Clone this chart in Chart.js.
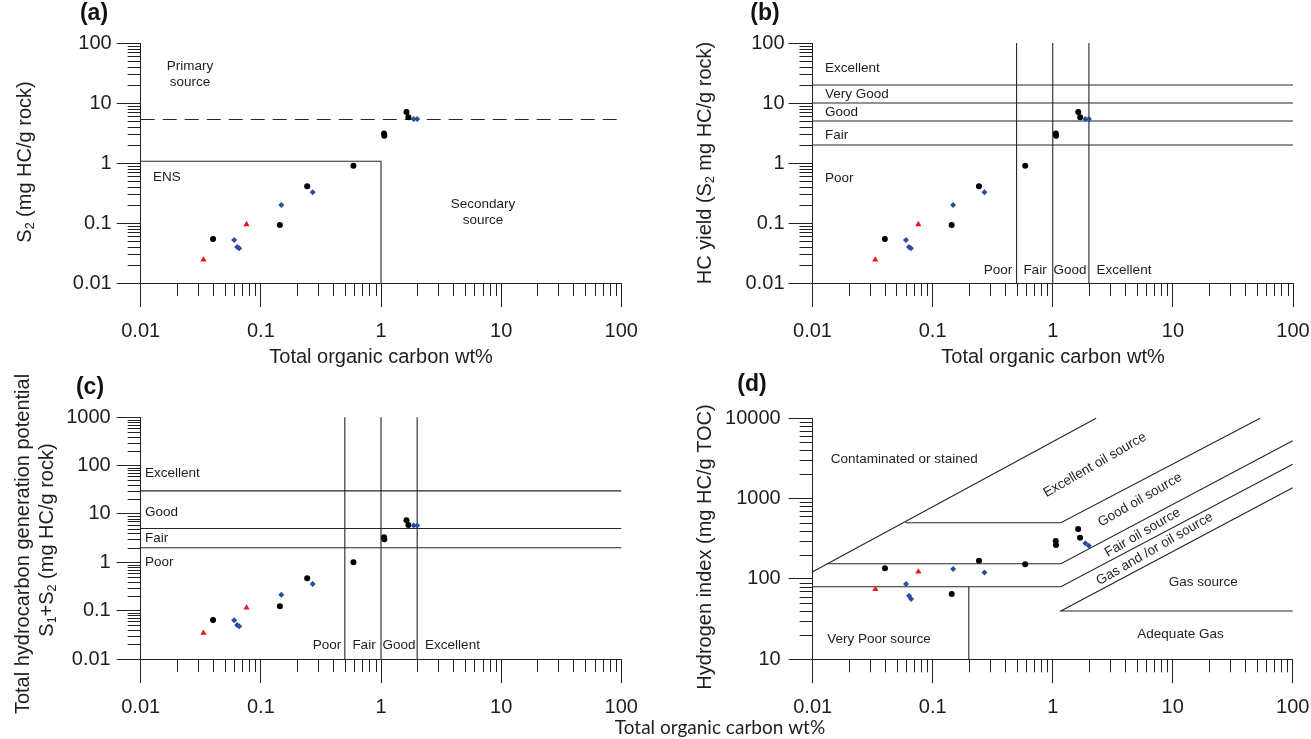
<!DOCTYPE html>
<html><head><meta charset="utf-8">
<script src="https://cdn.jsdelivr.net/npm/chart.js@4.4.1/dist/chart.umd.min.js"></script>
<style>
html,body{margin:0;padding:0;background:#fff;width:1311px;height:739px;overflow:hidden}
canvas{position:absolute;left:0;top:0;pointer-events:none}
</style></head><body>
<canvas id="ca" width="1311" height="739"></canvas>
<canvas id="cb" width="1311" height="739"></canvas>
<canvas id="cc" width="1311" height="739"></canvas>
<canvas id="cd" width="1311" height="739"></canvas>
<script>
// ---------------- data ----------------
const blackTOC  = [1.63, 1.69, 1.06, 1.065, 0.59, 0.243, 0.144, 0.040];
const blackS2   = [7.1, 5.8, 3.1, 2.85, 0.90, 0.41, 0.093, 0.054];
const blackS1S2 = [7.45, 5.94, 3.31, 3.0, 1.0, 0.47, 0.123, 0.064];
const blackHI   = [420, 327, 297, 265, 152, 168, 65, 136];

const redTOC  = [0.076, 0.0333];
const redS2   = [0.095, 0.0244];
const redS1S2 = [0.115, 0.0345];
const redHI   = [123, 74.5];

const blueTOC  = [1.87, 2.0, 0.27, 0.148, 0.060, 0.0635, 0.066];
const blueS2   = [5.4, 5.4, 0.325, 0.2, 0.052, 0.040, 0.038];
const blueS1S2 = [5.76, 5.76, 0.357, 0.214, 0.063, 0.0506, 0.0475];
const blueHI   = [279, 260, 120, 133, 86.7, 62, 56.4];

// tick labels
const tocTickLabels  = ['0.01', '0.1', '1', '10', '100'];
const s2TickLabels   = ['0.01', '0.1', '1', '10', '100'];
const s1s2TickLabels = ['0.01', '0.1', '1', '10', '100', '1000'];
const hiTickLabels   = ['10', '100', '1000', '10000'];

// classification limits
const primaryS2Limit = 5.3;          // dashed line (a)
const ensBox = [1, 1.07];            // TOC, S2 corner of ENS box (a)
const s2Limits = [2, 5, 10, 20];     // (b)
const tocLimits = [0.5, 1, 2];       // (b),(c)
const s1s2Limits = [2, 5, 30];       // (c)
// (d) boundary polylines [TOC, HI]
const hiContaminated = [[0.01, 123], [2.3, 10000]];
const hiExcellentLow = [[0.059, 500], [1.17, 500], [53.5, 10000]];
const hiGoodLow      = [[0.0132, 155], [1.17, 155], [100, 5270]];
const hiFairLow      = [[0.01, 80], [1.17, 80], [100, 2680]];
const hiGasLow       = [[100, 1370], [1.17, 40], [100, 40]];
const hiVeryPoor     = [[0.2, 10], [0.2, 80]];

// ---------------- styling ----------------
const FONT = '"Liberation Sans", Arial, Helvetica, sans-serif';
const TEXT = '#1e1e1e';
const AXIS = '#222';
const LINE = '#262626';
const BLACK = '#000000', RED = '#e8161e', BLUE = '#2b4aa2';

function isDecade(v) { const l = Math.log10(v); return Math.abs(l - Math.round(l)) < 1e-6; }
function logTicks(e0, e1) {
  const t = [];
  for (let e = e0; e < e1; e++) for (let m = 1; m < 10; m++) t.push(+(m * Math.pow(10, e)).toPrecision(6));
  t.push(Math.pow(10, e1));
  return t;
}
function pts(xs, ys) { return xs.map((x, i) => ({x: x, y: ys[i]})); }
function poly(arr) { return arr.map(p => ({x: p[0], y: p[1]})); }
function lineDs(data, dash) {
  return {data: data, showLine: true, pointRadius: 0, borderColor: LINE, borderWidth: 1.1,
          borderDash: dash || [], fill: false, order: 10, clip: 2};
}
function seriesDs(xs, ys) {
  return [
    {data: pts(xs.black, ys.black), pointStyle: 'circle', pointRadius: 3, backgroundColor: BLACK, borderWidth: 0, order: 3},
    {data: pts(xs.red, ys.red), pointStyle: 'triangle', pointRadius: 3.6, backgroundColor: RED, borderWidth: 0, order: 2},
    {data: pts(xs.blue, ys.blue), pointStyle: 'rectRot', pointRadius: 3, backgroundColor: BLUE, borderWidth: 0, order: 1}
  ];
}
const TOC = {black: blackTOC, red: redTOC, blue: blueTOC};

// ---------------- plugins ----------------
const MINOR = 13;
const minorTicks = {
  id: 'minorTicks',
  afterDraw(chart) {
    const ctx = chart.ctx, xs = chart.scales.x, ys = chart.scales.y;
    ctx.save(); ctx.strokeStyle = AXIS; ctx.lineWidth = 1;
    xs.ticks.forEach(t => {
      if (isDecade(t.value)) return;
      const px = Math.round(xs.getPixelForValue(t.value)) + 0.5;
      ctx.beginPath(); ctx.moveTo(px, xs.top); ctx.lineTo(px, xs.top + MINOR); ctx.stroke();
    });
    ys.ticks.forEach(t => {
      if (isDecade(t.value)) return;
      const py = Math.round(ys.getPixelForValue(t.value)) + 0.5;
      ctx.beginPath(); ctx.moveTo(ys.right, py); ctx.lineTo(ys.right - MINOR, py); ctx.stroke();
    });
    ctx.restore();
  }
};
function drawRich(ctx, it) {
  const size = it.size || 13.5, fam = it.family || FONT, weight = it.bold ? 'bold ' : '';
  const parts = it.parts || [{t: it.t}];
  const fontFor = p => weight + (p.sub ? size * 0.62 : size) + 'px ' + fam;
  const widths = parts.map(p => { ctx.font = fontFor(p); return ctx.measureText(p.t).width; });
  const total = widths.reduce((a, b) => a + b, 0);
  let x0 = it.align === 'center' ? -total / 2 : (it.align === 'right' ? -total : 0);
  ctx.save();
  ctx.translate(it.x, it.y);
  if (it.rot) ctx.rotate(it.rot * Math.PI / 180);
  ctx.fillStyle = it.color || TEXT; ctx.textBaseline = 'middle'; ctx.textAlign = 'left';
  parts.forEach((p, i) => { ctx.font = fontFor(p); ctx.fillText(p.t, x0, p.sub ? size * 0.3 : 0); x0 += widths[i]; });
  ctx.restore();
}
const texts = {
  id: 'texts',
  afterDraw(chart, args, opts) { (opts.items || []).forEach(it => drawRich(chart.ctx, it)); }
};

// ---------------- chart factory ----------------
const W = 1311, H = 739, XH = 80;
function axisOpts(which, exps, labels, size, pad) {
  const tv = logTicks(exps[0], exps[1]);
  return {
    type: 'logarithmic', position: which === 'x' ? 'bottom' : 'left',
    min: Math.pow(10, exps[0]), max: Math.pow(10, exps[1]),
    afterBuildTicks: s => { s.ticks = tv.map(v => ({value: v})); },
    afterFit: s => {
      if (which === 'x') s.height = size; else s.width = size;
      s.paddingLeft = 0; s.paddingRight = 0; s.paddingTop = 0; s.paddingBottom = 0;
    },
    ticks: {
      autoSkip: false, maxRotation: 0, minRotation: 0, padding: pad, color: TEXT,
      font: {family: FONT, size: 20},
      callback: v => isDecade(v) ? labels[Math.round(Math.log10(v)) - exps[0]] : ''
    },
    grid: {
      display: true, drawOnChartArea: false, drawTicks: true, tickLength: 24,
      tickColor: c => (c.tick && isDecade(c.tick.value)) ? AXIS : 'rgba(0,0,0,0)',
      tickWidth: 1, lineWidth: 1
    },
    border: {display: true, color: AXIS, width: 1},
    title: {display: false}
  };
}
function makeChart(id, P) {
  return new Chart(document.getElementById(id), {
    type: 'scatter',
    data: {datasets: P.datasets},
    plugins: [minorTicks, texts],
    options: {
      responsive: false, animation: false, devicePixelRatio: 1, events: [],
      layout: {padding: {left: 0, top: P.area.t, right: W - P.area.r, bottom: H - P.area.b - XH}},
      plugins: {legend: {display: false}, tooltip: {enabled: false}, texts: {items: P.texts}},
      scales: {
        x: axisOpts('x', P.xExp, P.xLabels, XH, 12),
        y: axisOpts('y', P.yExp, P.yLabels, P.area.l, P.yPad)
      }
    }
  });
}
const AX = {size: 20};
const S2sub = t => [{t: 'S'}, {t: '2', sub: true}, {t: t}];

// ---------------- (a) ----------------
makeChart('ca', {
  area: {l: 140.7, r: 621.3, t: 43, b: 283},
  xExp: [-2, 2], yExp: [-2, 2], xLabels: tocTickLabels, yLabels: s2TickLabels, yPad: 5,
  datasets: [
    ...seriesDs(TOC, {black: blackS2, red: redS2, blue: blueS2}),
    lineDs([{x: 0.01, y: ensBox[1]}, {x: ensBox[0], y: ensBox[1]}, {x: ensBox[0], y: 0.01}]),
    lineDs([{x: 0.01, y: primaryS2Limit}, {x: 100, y: primaryS2Limit}], [14, 8])
  ],
  texts: [
    {t: '(a)', x: 94, y: 14, align: 'center', size: 23, bold: true, color: '#111'},
    {t: 'Primary', x: 190, y: 66, align: 'center'},
    {t: 'source', x: 190, y: 82, align: 'center'},
    {t: 'ENS', x: 153, y: 177},
    {t: 'Secondary', x: 483, y: 204, align: 'center'},
    {t: 'source', x: 483, y: 220, align: 'center'},
    {parts: S2sub(' (mg HC/g rock)'), x: 25, y: 162, rot: -90, align: 'center', size: 20},
    {t: 'Total organic carbon wt%', x: 381, y: 357, align: 'center', size: 20}
  ]
});

// ---------------- (b) ----------------
makeChart('cb', {
  area: {l: 812.5, r: 1293, t: 43, b: 283},
  xExp: [-2, 2], yExp: [-2, 2], xLabels: tocTickLabels, yLabels: s2TickLabels, yPad: 4,
  datasets: [
    ...seriesDs(TOC, {black: blackS2, red: redS2, blue: blueS2}),
    ...s2Limits.map(v => lineDs([{x: 0.01, y: v}, {x: 100, y: v}])),
    ...tocLimits.map(v => lineDs([{x: v, y: 0.01}, {x: v, y: 100}]))
  ],
  texts: [
    {t: '(b)', x: 765, y: 14, align: 'center', size: 23, bold: true, color: '#111'},
    {t: 'Excellent', x: 825, y: 68},
    {t: 'Very Good', x: 825, y: 94.5},
    {t: 'Good', x: 825, y: 112},
    {t: 'Fair', x: 825, y: 135},
    {t: 'Poor', x: 825, y: 178},
    {t: 'Poor', x: 998, y: 270, align: 'center'},
    {t: 'Fair', x: 1035, y: 270, align: 'center'},
    {t: 'Good', x: 1070, y: 270, align: 'center'},
    {t: 'Excellent', x: 1124, y: 270, align: 'center'},
    {parts: [{t: 'HC yield (S'}, {t: '2', sub: true}, {t: ' mg HC/g rock)'}], x: 705, y: 163, rot: -90, align: 'center', size: 20},
    {t: 'Total organic carbon wt%', x: 1053, y: 357, align: 'center', size: 20}
  ]
});

// ---------------- (c) ----------------
makeChart('cc', {
  area: {l: 140.7, r: 621.3, t: 417.3, b: 659},
  xExp: [-2, 2], yExp: [-2, 3], xLabels: tocTickLabels, yLabels: s1s2TickLabels, yPad: 6,
  datasets: [
    ...seriesDs(TOC, {black: blackS1S2, red: redS1S2, blue: blueS1S2}),
    ...s1s2Limits.map(v => lineDs([{x: 0.01, y: v}, {x: 100, y: v}])),
    ...tocLimits.map(v => lineDs([{x: v, y: 0.01}, {x: v, y: 1000}]))
  ],
  texts: [
    {t: '(c)', x: 90, y: 388, align: 'center', size: 23, bold: true, color: '#111'},
    {t: 'Excellent', x: 145, y: 473.5},
    {t: 'Good', x: 145, y: 512},
    {t: 'Fair', x: 145, y: 538.5},
    {t: 'Poor', x: 145, y: 562.5},
    {t: 'Poor', x: 327, y: 645.7, align: 'center'},
    {t: 'Fair', x: 364, y: 645.7, align: 'center'},
    {t: 'Good', x: 399, y: 645.7, align: 'center'},
    {t: 'Excellent', x: 452.5, y: 645.7, align: 'center'},
    {t: 'Total hydrocarbon generation potential', x: 23, y: 544, rot: -90, align: 'center', size: 20},
    {parts: [{t: 'S'}, {t: '1', sub: true}, {t: '+S'}, {t: '2', sub: true}, {t: ' (mg HC/g rock)'}], x: 47, y: 540, rot: -90, align: 'center', size: 20}
  ]
});

// ---------------- (d) ----------------
makeChart('cd', {
  area: {l: 812.7, r: 1292.7, t: 418.3, b: 659.3},
  xExp: [-2, 2], yExp: [1, 4], xLabels: tocTickLabels, yLabels: hiTickLabels, yPad: 8,
  datasets: [
    ...seriesDs(TOC, {black: blackHI, red: redHI, blue: blueHI}),
    lineDs(poly(hiContaminated)), lineDs(poly(hiExcellentLow)), lineDs(poly(hiGoodLow)),
    lineDs(poly(hiFairLow)), lineDs(poly(hiGasLow)), lineDs(poly(hiVeryPoor))
  ],
  texts: [
    {t: '(d)', x: 752, y: 385, align: 'center', size: 23, bold: true, color: '#111'},
    {t: 'Contaminated or stained', x: 830.7, y: 459.3},
    {t: 'Excellent oil source', x: 1095, y: 465, align: 'center', rot: -30},
    {t: 'Good oil source', x: 1140, y: 500, align: 'center', rot: -30},
    {t: 'Fair oil source', x: 1142.7, y: 532.7, align: 'center', rot: -30},
    {t: 'Gas and /or oil source', x: 1154.7, y: 549, align: 'center', rot: -30},
    {t: 'Gas source', x: 1203.3, y: 582.3, align: 'center'},
    {t: 'Adequate Gas', x: 1180.5, y: 634.3, align: 'center'},
    {t: 'Very Poor source', x: 827.3, y: 639.3},
    {t: 'Hydrogen index (mg HC/g TOC)', x: 705, y: 547, rot: -90, align: 'center', size: 20},
    {t: 'Total organic carbon wt%', x: 720, y: 728, align: 'center', size: 19, family: 'Lato, "Open Sans", sans-serif'}
  ]
});
</script>
</body></html>
